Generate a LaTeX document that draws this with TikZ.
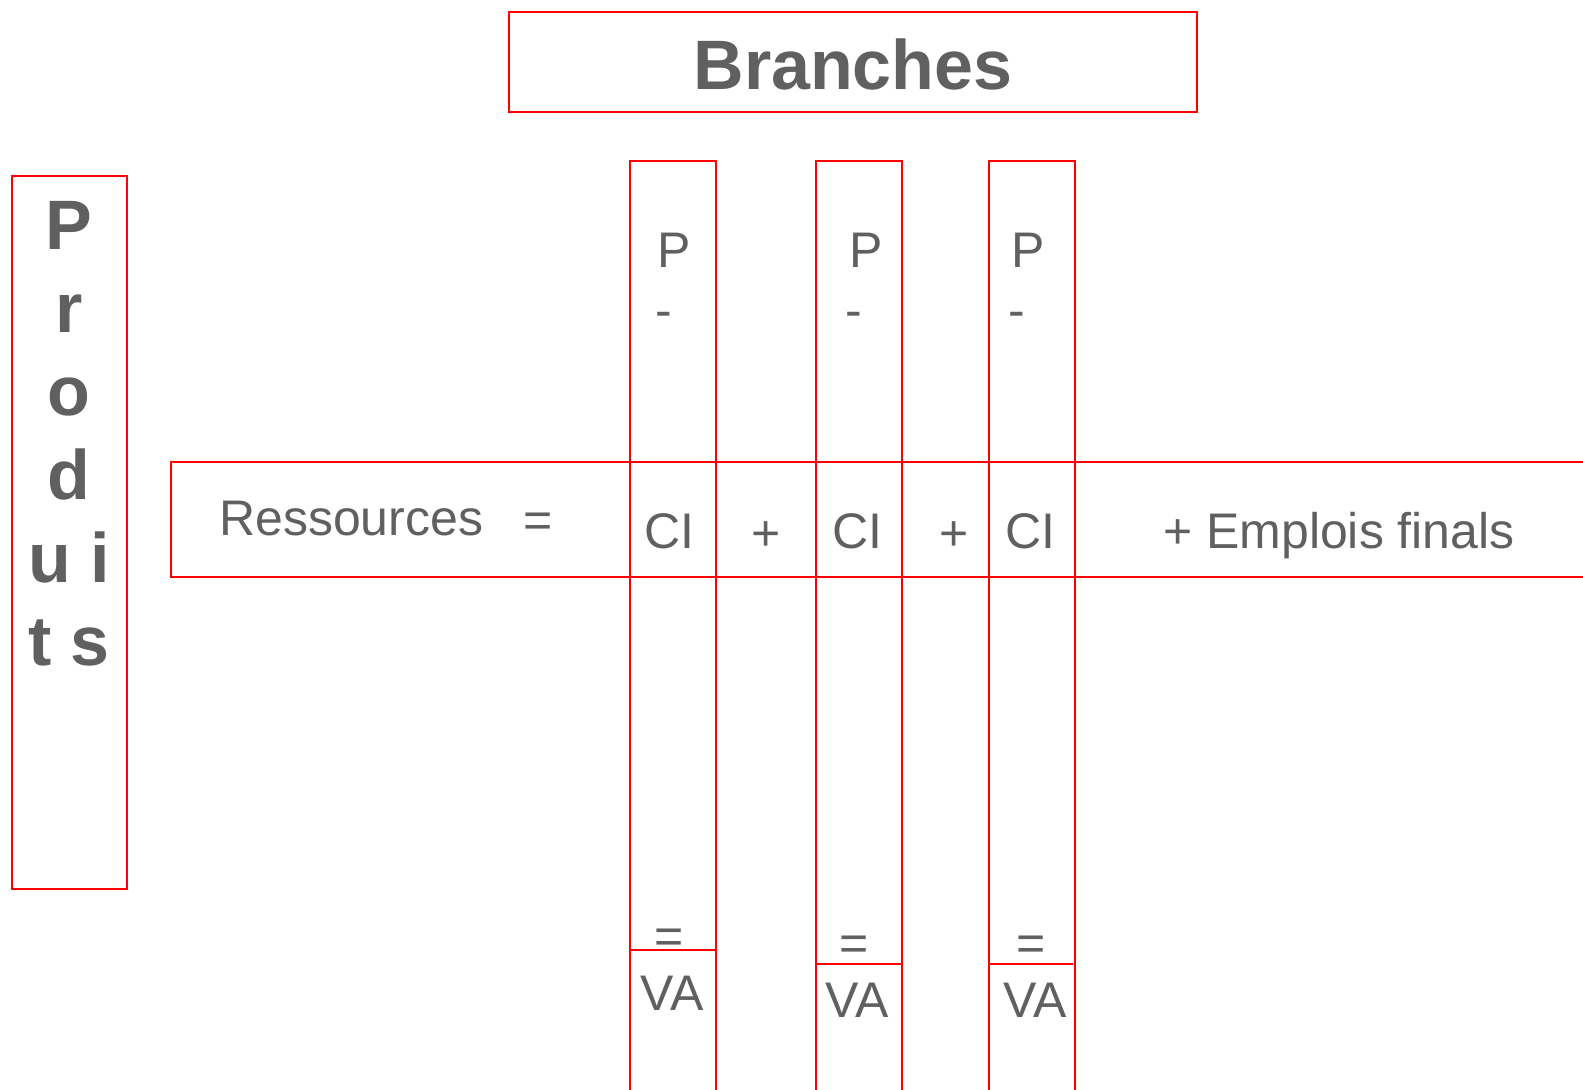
\documentclass[tikz,border=0pt]{standalone}
\usepackage{fontspec}
\setmainfont{Liberation Sans}
\usetikzlibrary{positioning}
\definecolor{texte}{RGB}{96,96,96}
\tikzset{
  cadre/.style = {draw=red, line width=1.6pt, inner sep=0pt, anchor=north west},
  mot/.style = {text=texte, inner sep=0pt, font=\fontsize{50}{60}\selectfont},
  gras/.style = {text=texte, inner sep=0pt, font=\bfseries\fontsize{70}{83.3}\selectfont},
}

\begin{document}
\begin{tikzpicture}[x=1pt, y=-1pt]
  \useasboundingbox (0,0) rectangle (1583,1090);
  \clip (0,0) rectangle (1583,1090);
  % cadres
  \node (branches) [cadre, minimum width=688, minimum height=100] at (508,11) {};
  \node (produits) [cadre, minimum width=115, minimum height=713] at (11,175) {};
  \node (ligne) [cadre, minimum width=1430, minimum height=115] at (170,461) {};
  \node (branche1) [cadre, minimum width=86, minimum height=940] at (629,160) {};
  \node (branche2) [cadre, minimum width=86, minimum height=940] at (815,160) {};
  \node (branche3) [cadre, minimum width=86, minimum height=940] at (988,160) {};
  \coordinate (va1) at (629,950);
  \coordinate (va2) at (815,964);
  \coordinate (va3) at (988,964);
  \draw[red, line width=1.6pt] (va1) -- ++(86,0);
  \draw[red, line width=1.6pt] (va2) -- ++(86,0);
  \draw[red, line width=1.6pt] (va3) -- ++(85,0);
  % titres
  \node (titre) [gras, anchor=base] at (853,89) {Branches};
  \node (lettres) [gras, align=center, anchor=north] at (69,201) {P\\r\\o\\d\\u i\\t s};
  % ligne des ressources
  \node (res) [mot, anchor=base west] at (219,535) {Ressources};
  \node (egal) [mot] at (538,525) {=};
  \node (ci1) [mot, anchor=base] at (669,548) {CI};
  \node (plus1) [mot] at (766,536) {+};
  \node (ci2) [mot, anchor=base] at (857,548) {CI};
  \node (plus2) [mot] at (954,536) {+};
  \node (ci3) [mot, anchor=base] at (1030,548) {CI};
  \node (emplois) [mot, anchor=base west] at (1163,548) {+ Emplois finals};
  % production
  \node (p1) [mot, anchor=base west] at (657,267) {P};
  \node (p2) [mot, anchor=base west] at (849,267) {P};
  \node (p3) [mot, anchor=base west] at (1011,267) {P};
  \node (m1) [mot] at (664,320) {-};
  \node (m2) [mot] at (854,320) {-};
  \node (m3) [mot] at (1017,320) {-};
  % valeur ajoutee
  \node (e1) [mot] at (669,941) {=};
  \node (e2) [mot] at (854,948) {=};
  \node (e3) [mot] at (1031,948) {=};
  \node (a1) [mot, anchor=base] at (672,1010) {VA};
  \node (a2) [mot, anchor=base] at (857,1017) {VA};
  \node (a3) [mot, anchor=base] at (1035,1017) {VA};
\end{tikzpicture}
\end{document}
